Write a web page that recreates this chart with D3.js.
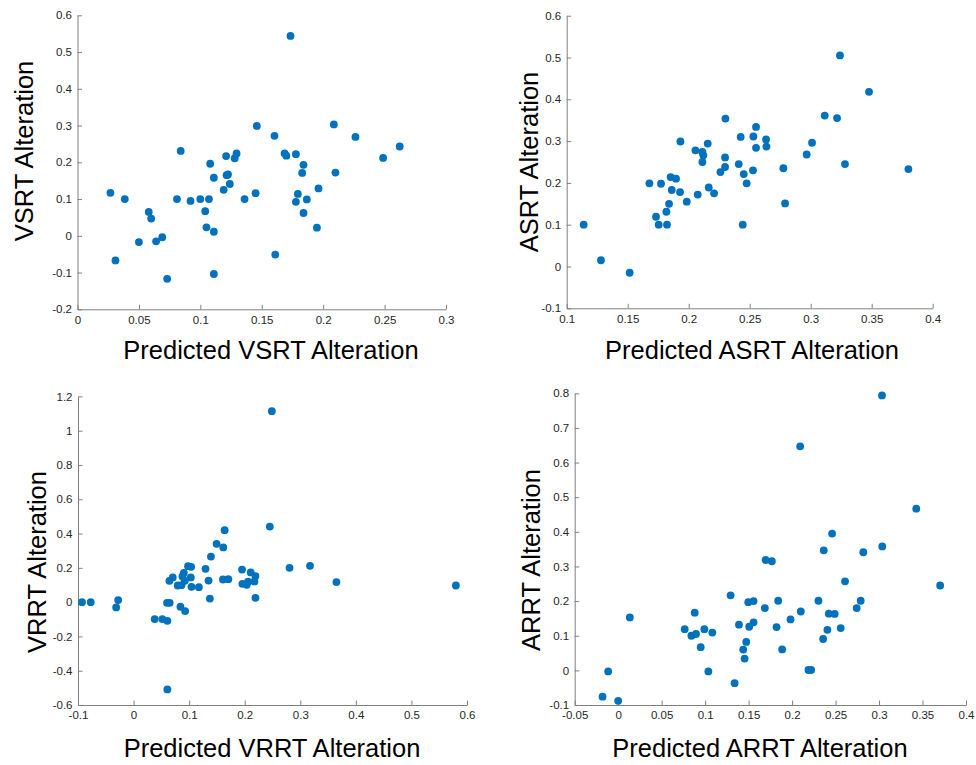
<!DOCTYPE html>
<html>
<head>
<meta charset="utf-8">
<script src="https://cdn.jsdelivr.net/npm/d3@7"></script>
<style>
  html, body { margin: 0; padding: 0; background: #fff; }
  svg { display: block; }
  .tick text { font-family: "Liberation Sans", Arial, Helvetica, sans-serif; font-size: 11.5px; fill: #262626; }
  .ax path, .ax line { stroke: #808080; stroke-width: 1; }
  .lab { font-family: "Liberation Sans", Arial, Helvetica, sans-serif; font-size: 25.5px; fill: #000; }
</style>
</head>
<body>
<svg id="chart" width="976" height="765"></svg>
<script>
// ---------------- DATA ----------------
// Panel 1: VSRT
const vsrtPred = [0.0268,0.0309,0.0385,0.050,0.058,0.060,0.064,0.069,0.073,0.081,0.084,0.092,0.100,0.107,0.104,0.105,0.111,0.111,0.108,0.111,0.119,0.121,0.1214,0.1225,0.124,0.128,0.1295,0.136,0.145,0.146,
  0.1734,0.1604,0.2087,0.2263,0.2623,0.2488,0.1686,0.170,0.1778,0.1840,0.1829,0.2100,0.1962,0.1794,0.1778,0.1867,0.1840,0.1949,0.1610];
const vsrtAlt = [0.117,-0.067,0.100,-0.017,0.065,0.047,-0.015,-0.004,-0.117,0.100,0.231,0.095,0.100,0.100,0.067,0.023,0.011,-0.104,0.196,0.158,0.125,0.217,0.165,0.167,0.141,0.211,0.224,0.100,0.116,0.299,
  0.544,0.272,0.303,0.269,0.243,0.212,0.224,0.218,0.222,0.193,0.171,0.172,0.129,0.114,0.0925,0.099,0.062,0.022,-0.051];

// Panel 2: ASRT
const asrtPred = [0.1139,0.1281,0.1516,0.1678,0.1773,0.1732,0.1754,0.1822,0.1817,0.1839,0.1852,0.1896,0.1861,0.1929,0.1932,0.1984,0.2055,0.2112,0.2120,0.2112,0.2074,0.2156,0.2164,0.2208,0.2260,0.2298,0.2298,0.2301,0.2410,0.2426,0.2451,0.2475,0.2443,
  0.2530,0.2552,0.2552,0.2634,0.2637,0.2527,0.2776,0.279,0.2967,0.3011,0.3115,0.3216,0.3240,0.3281,0.3478,0.3801];
const asrtAlt = [0.100,0.015,-0.015,0.199,0.198,0.119,0.100,0.100,0.131,0.150,0.214,0.210,0.183,0.178,0.299,0.155,0.278,0.274,0.266,0.250,0.172,0.294,0.189,0.175,0.226,0.238,0.261,0.354,0.245,0.310,0.221,0.199,0.100,
  0.311,0.334,0.284,0.304,0.287,0.230,0.235,0.151,0.268,0.296,0.361,0.355,0.505,0.245,0.418,0.233];

// Panel 3: VRRT
const vrrtPred = [-0.0928,-0.0771,-0.0277,-0.0313,0.038,0.0518,0.0608,0.0608,0.0602,0.065,0.0645,0.0705,0.0843,0.0928,0.0795,0.0861,0.0904,0.0922,0.098,0.1036,0.103,0.1042,0.1175,0.1295,0.1349,0.1373,0.1392,0.1494,0.1614,0.1639,0.1608,0.1705,0.1952,0.1958,0.2036,0.206,0.2108,0.2193,0.2175,0.2193,0.088,
  0.2488,0.2452,0.2807,0.3175,0.365,0.580];
const vrrtAlt = [0.000,0.000,0.012,-0.031,-0.099,-0.099,-0.109,-0.509,-0.004,-0.004,0.124,0.144,-0.027,-0.052,0.097,0.099,0.171,0.124,0.210,0.206,0.144,0.089,0.087,0.194,0.126,0.021,0.266,0.340,0.319,0.420,0.132,0.134,0.190,0.107,0.101,0.119,0.173,0.152,0.121,0.025,0.150,
  1.114,0.441,0.200,0.212,0.117,0.097];

// Panel 4: ARRT
const arrtPred = [-0.018,-0.0115,0.000,0.0134,0.0765,0.0842,0.0895,0.088,0.0991,0.0949,0.1083,0.1037,0.1293,0.1339,0.1389,0.1496,0.1507,0.1473,0.1438,0.1454,
  0.3034,0.2093,0.3428,0.246,0.2364,0.2819,0.3037,0.1695,0.1767,0.2609,0.3703,0.1557,0.184,0.1687,0.2303,0.210,0.1982,0.2789,0.2743,0.2422,0.249,0.1557,0.1821,0.2406,0.2559,0.2357,0.1886,0.2188,0.2219];
const arrtAlt = [-0.076,-0.003,-0.088,0.153,0.119,0.100,0.105,0.1665,0.119,0.067,0.109,-0.003,0.2166,-0.037,0.132,0.197,0.126,0.082,0.060,0.034,
  0.794,0.647,0.467,0.395,0.3465,0.341,0.358,0.3186,0.315,0.257,0.245,0.200,0.201,0.180,0.201,0.170,0.147,0.201,0.180,0.1636,0.163,0.1386,0.125,0.117,0.122,0.0905,0.0606,0.001,0.001];

// Tick values and labels
const p1XTicks = [0,0.05,0.1,0.15,0.2,0.25,0.3];
const p1XLabels = ["0","0.05","0.1","0.15","0.2","0.25","0.3"];
const p1YTicks = [-0.2,-0.1,0,0.1,0.2,0.3,0.4,0.5,0.6];
const p1YLabels = ["-0.2","-0.1","0","0.1","0.2","0.3","0.4","0.5","0.6"];

const p2XTicks = [0.1,0.15,0.2,0.25,0.3,0.35,0.4];
const p2XLabels = ["0.1","0.15","0.2","0.25","0.3","0.35","0.4"];
const p2YTicks = [-0.1,0,0.1,0.2,0.3,0.4,0.5,0.6];
const p2YLabels = ["-0.1","0","0.1","0.2","0.3","0.4","0.5","0.6"];

const p3XTicks = [-0.1,0,0.1,0.2,0.3,0.4,0.5,0.6];
const p3XLabels = ["-0.1","0","0.1","0.2","0.3","0.4","0.5","0.6"];
const p3YTicks = [-0.6,-0.4,-0.2,0,0.2,0.4,0.6,0.8,1,1.2];
const p3YLabels = ["-0.6","-0.4","-0.2","0","0.2","0.4","0.6","0.8","1","1.2"];

const p4XTicks = [-0.05,0,0.05,0.1,0.15,0.2,0.25,0.3,0.35,0.4];
const p4XLabels = ["-0.05","0","0.05","0.1","0.15","0.2","0.25","0.3","0.35","0.4"];
const p4YTicks = [-0.1,0,0.1,0.2,0.3,0.4,0.5,0.6,0.7,0.8];
const p4YLabels = ["-0.1","0","0.1","0.2","0.3","0.4","0.5","0.6","0.7","0.8"];

const yTitles = ["VSRT Alteration","ASRT Alteration","VRRT Alteration","ARRT Alteration"];
const xTitles = ["Predicted VSRT Alteration","Predicted ASRT Alteration","Predicted VRRT Alteration","Predicted ARRT Alteration"];

// ---------------- LAYOUT ----------------
const panels = [
  { xs: vsrtPred, ys: vsrtAlt, xt: p1XTicks, xl: p1XLabels, yt: p1YTicks, yl: p1YLabels,
    xr: [77.5, 446], yr: [309.3, 15.3], yTitlePos: [33, 151], xTitlePos: [271, 359] },
  { xs: asrtPred, ys: asrtAlt, xt: p2XTicks, xl: p2XLabels, yt: p2YTicks, yl: p2YLabels,
    xr: [566.7, 932.7], yr: [308.3, 15.7], yTitlePos: [538, 162], xTitlePos: [752, 359] },
  { xs: vrrtPred, ys: vrrtAlt, xt: p3XTicks, xl: p3XLabels, yt: p3YTicks, yl: p3YLabels,
    xr: [78, 467], yr: [705, 396.4], yTitlePos: [46, 562], xTitlePos: [272, 757] },
  { xs: arrtPred, ys: arrtAlt, xt: p4XTicks, xl: p4XLabels, yt: p4YTicks, yl: p4YLabels,
    xr: [574.7, 966], yr: [705, 393.3], yTitlePos: [540, 560], xTitlePos: [760, 757] }
];

const svg = d3.select("#chart");

panels.forEach((p, i) => {
  const x = d3.scaleLinear().domain([p.xt[0], p.xt[p.xt.length-1]]).range(p.xr);
  const y = d3.scaleLinear().domain([p.yt[0], p.yt[p.yt.length-1]]).range(p.yr);
  const g = svg.append("g");

  const xAxis = d3.axisBottom(x).tickValues(p.xt)
      .tickFormat((d, k) => p.xl[k]).tickSizeInner(-4.5).tickSizeOuter(0).tickPadding(6.3);
  const yAxis = d3.axisLeft(y).tickValues(p.yt)
      .tickFormat((d, k) => p.yl[k]).tickSizeInner(-4.5).tickSizeOuter(0).tickPadding(5.5);

  g.append("g").attr("class", "ax").attr("transform", `translate(0,${p.yr[0]})`).call(xAxis);
  g.append("g").attr("class", "ax").attr("transform", `translate(${p.xr[0]},0)`).call(yAxis);
  g.selectAll(".ax .domain").attr("fill", "none");

  g.append("g").selectAll("circle")
    .data(p.xs.map((v, k) => [v, p.ys[k]]))
    .join("circle")
    .attr("cx", d => x(d[0]))
    .attr("cy", d => y(d[1]))
    .attr("r", 3.9)
    .attr("fill", "#0072BD");

  g.append("text").attr("class", "lab")
    .attr("text-anchor", "middle")
    .attr("transform", `translate(${p.yTitlePos[0]},${p.yTitlePos[1]}) rotate(-90)`)
    .text(yTitles[i]);

  g.append("text").attr("class", "lab")
    .attr("text-anchor", "middle")
    .attr("x", p.xTitlePos[0]).attr("y", p.xTitlePos[1])
    .text(xTitles[i]);
});
</script>
</body>
</html>
